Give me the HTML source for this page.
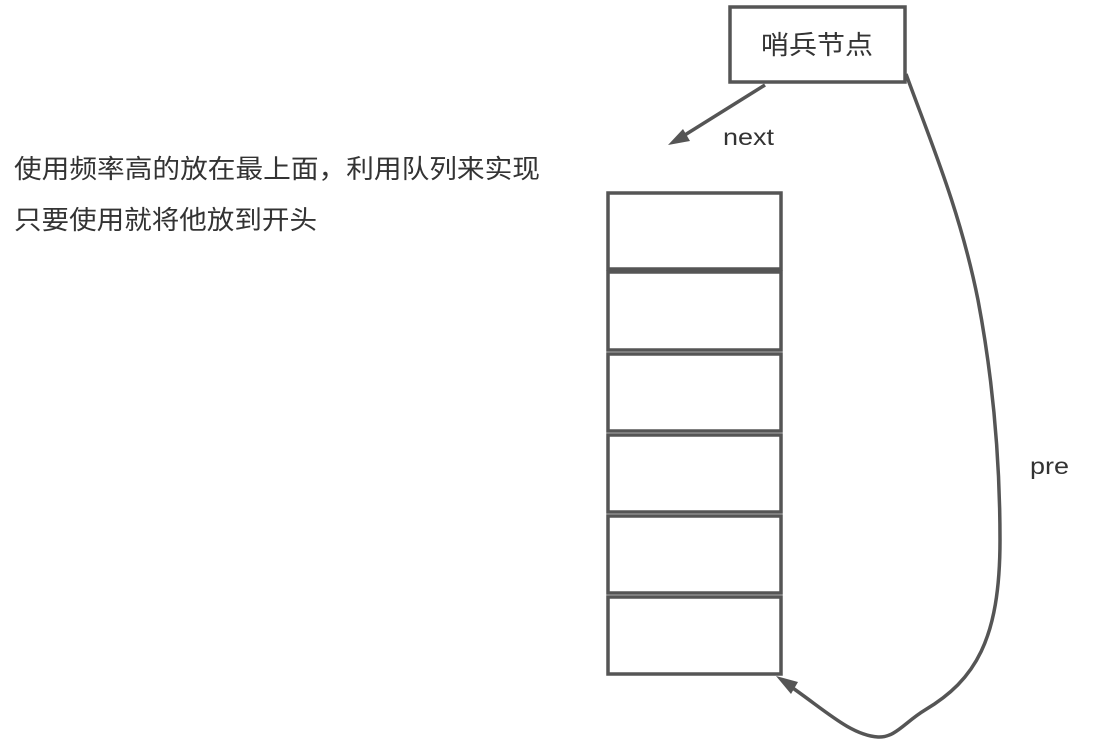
<!DOCTYPE html>
<html><head><meta charset="utf-8"><style>
body{margin:0;background:#fff;}
svg{display:block}
text{font-family:"Liberation Sans","Noto Sans CJK SC",sans-serif;fill:#333}
</style></head><body>
<svg width="1094" height="741" viewBox="0 0 1094 741">
<g fill="#fff" stroke="#555" stroke-width="3.5">
<rect x="730" y="7" width="175" height="75"/>
<rect x="608" y="193" width="173" height="76"/>
<rect x="608" y="272" width="173" height="78"/>
<rect x="608" y="354" width="173" height="77"/>
<rect x="608" y="435" width="173" height="77"/>
<rect x="608" y="516" width="173" height="77"/>
<rect x="608" y="597" width="173" height="77"/>
</g>
<line x1="608" y1="270" x2="781" y2="270" stroke="#555" stroke-width="4"/>
<text x="761" y="54" font-size="26" textLength="112" lengthAdjust="spacingAndGlyphs">哨兵节点</text>
<line x1="765" y1="85" x2="680" y2="138" stroke="#555" stroke-width="3.5"/>
<polygon points="668,145 683,129 690,141" fill="#555"/>
<text x="723" y="145" font-size="23" textLength="51" lengthAdjust="spacingAndGlyphs">next</text>
<path d="M906,74 C930,140 960,210 978,300 C995,390 1000,470 1000,540 C1000,640 975,680 925,710 C905,722 895,738 878,737 C850,735 825,710 787,684" fill="none" stroke="#555" stroke-width="3.5"/>
<polygon points="776,676 798,682 791,694" fill="#555"/>
<text x="1030" y="474" font-size="23" textLength="39" lengthAdjust="spacingAndGlyphs">pre</text>
<text x="14" y="178" font-size="26" textLength="526" lengthAdjust="spacingAndGlyphs">使用频率高的放在最上面，利用队列来实现</text>
<text x="14" y="229" font-size="26" textLength="303" lengthAdjust="spacingAndGlyphs">只要使用就将他放到开头</text>
</svg>
</body></html>
